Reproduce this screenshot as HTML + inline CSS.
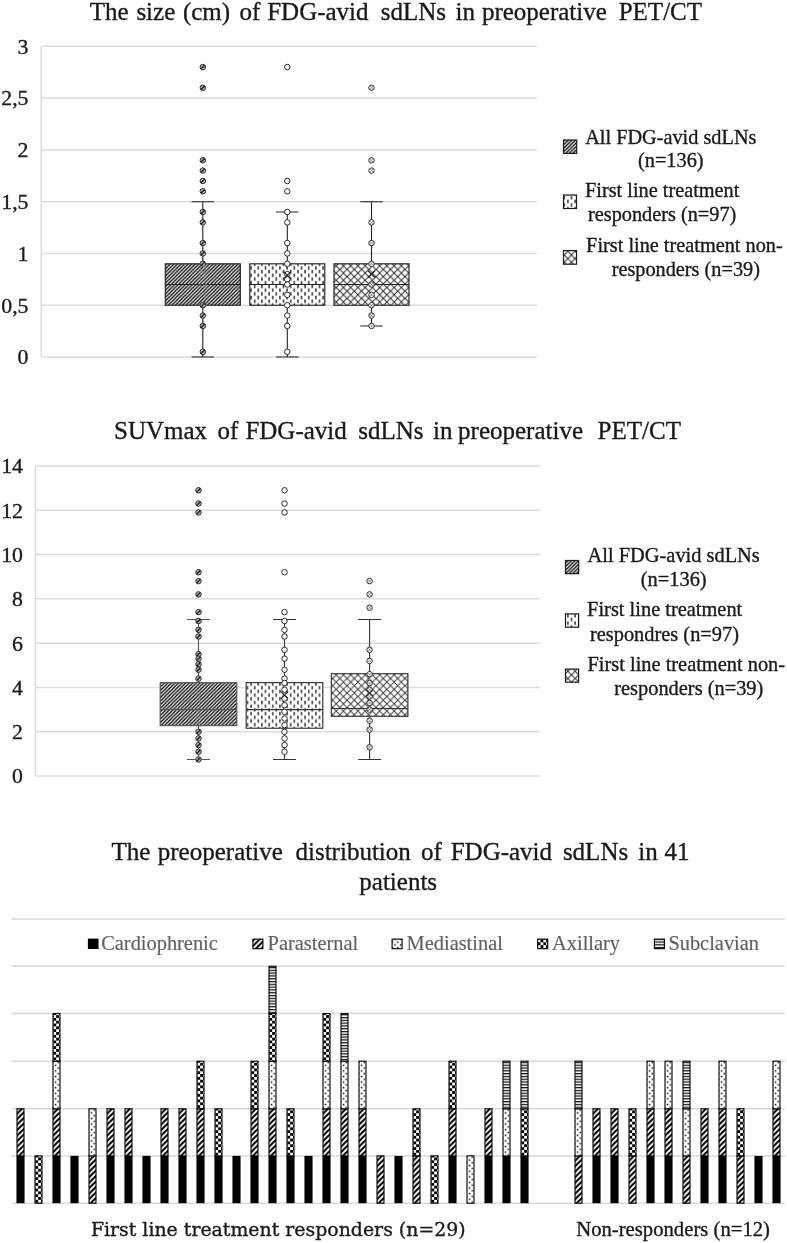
<!DOCTYPE html>
<html><head><meta charset="utf-8"><title>FDG-avid sdLNs</title>
<style>html,body{margin:0;padding:0;background:#fff}svg{display:block}</style>
</head><body>
<svg width="787" height="1243" viewBox="0 0 787 1243">
<defs>
<pattern id="pHatch" patternUnits="userSpaceOnUse" width="3.56" height="3.56">
 <rect width="3.56" height="3.56" fill="#fff"/>
 <path d="M-0.89,0.89 L0.89,-0.89 M0,3.56 L3.56,0 M2.67,4.45 L4.45,2.67" stroke="#000" stroke-width="1.33"/>
</pattern>
<pattern id="pDash" patternUnits="userSpaceOnUse" width="7.2" height="7.4">
 <rect width="7.2" height="7.4" fill="#fff"/>
 <rect x="5.6" y="-0.2" width="1.4" height="3.5" fill="#222"/>
 <rect x="5.6" y="7.2" width="1.4" height="3.5" fill="#222"/>
 <rect x="2.0" y="3.5" width="1.4" height="3.5" fill="#222"/>
</pattern>
<pattern id="pCross" patternUnits="userSpaceOnUse" width="7.24" height="7.24" patternTransform="translate(-0.46 1.54)">
 <rect width="7.24" height="7.24" fill="#fff"/>
 <path d="M0,0 L7.24,7.24 M7.24,0 L0,7.24" stroke="#333" stroke-width="1.1"/>
</pattern>
<pattern id="pPara" patternUnits="userSpaceOnUse" width="5.5" height="5.5">
 <rect width="5.5" height="5.5" fill="#fff"/>
 <path d="M-1.375,1.375 L1.375,-1.375 M0,5.5 L5.5,0 M4.125,6.875 L6.875,4.125" stroke="#000" stroke-width="2.1"/>
</pattern>
<pattern id="pChk" patternUnits="userSpaceOnUse" width="5.65" height="5.65" patternTransform="translate(3.725 1.6)">
 <rect width="5.65" height="5.65" fill="#fff"/>
 <rect x="0" y="0" width="2.825" height="2.825" fill="#000"/>
 <rect x="2.825" y="2.825" width="2.825" height="2.825" fill="#000"/>
</pattern>
<pattern id="pDot" patternUnits="userSpaceOnUse" width="5.6" height="5.6" patternTransform="translate(1.45 2.65)">
 <rect width="5.6" height="5.6" fill="#fff"/>
 <rect x="0.8" y="0.7" width="1.5" height="1.5" fill="#000"/>
 <rect x="3.6" y="3.5" width="1.5" height="1.5" fill="#000"/>
</pattern>
<pattern id="pHor" patternUnits="userSpaceOnUse" width="4" height="2.8" patternTransform="translate(0 0.65)">
 <rect width="4" height="2.8" fill="#fff"/>
 <rect x="0" y="0" width="4" height="1.25" fill="#111"/>
</pattern>
<pattern id="pDash2" patternUnits="userSpaceOnUse" width="7.2" height="7.4" patternTransform="translate(0 1.7)">
 <rect width="7.2" height="7.4" fill="#fff"/>
 <rect x="5.6" y="-0.2" width="1.4" height="3.5" fill="#2a2a2a"/>
 <rect x="5.6" y="7.2" width="1.4" height="3.5" fill="#2a2a2a"/>
 <rect x="2.0" y="3.5" width="1.4" height="3.5" fill="#2a2a2a"/>
</pattern>
<pattern id="pCross2" patternUnits="userSpaceOnUse" width="7.24" height="7.24" patternTransform="translate(-0.46 5.16)">
 <rect width="7.24" height="7.24" fill="#fff"/>
 <path d="M0,0 L7.24,7.24 M7.24,0 L0,7.24" stroke="#3c3c3c" stroke-width="1.0"/>
</pattern>
</defs>

<line x1="41.3" y1="357.00" x2="537" y2="357.00" stroke="#dcdcdc" stroke-width="1.5"/>
<text x="28.5" y="364.35" font-size="21.8" text-anchor="end" fill="#1a1a1a" stroke="#1a1a1a" stroke-width="0.35" font-family="'Liberation Serif', serif" >0</text>
<line x1="41.3" y1="305.23" x2="537" y2="305.23" stroke="#dcdcdc" stroke-width="1.5"/>
<text x="28.5" y="312.58" font-size="21.8" text-anchor="end" fill="#1a1a1a" stroke="#1a1a1a" stroke-width="0.35" font-family="'Liberation Serif', serif" >0,5</text>
<line x1="41.3" y1="253.45" x2="537" y2="253.45" stroke="#dcdcdc" stroke-width="1.5"/>
<text x="28.5" y="260.80" font-size="21.8" text-anchor="end" fill="#1a1a1a" stroke="#1a1a1a" stroke-width="0.35" font-family="'Liberation Serif', serif" >1</text>
<line x1="41.3" y1="201.68" x2="537" y2="201.68" stroke="#dcdcdc" stroke-width="1.5"/>
<text x="28.5" y="209.03" font-size="21.8" text-anchor="end" fill="#1a1a1a" stroke="#1a1a1a" stroke-width="0.35" font-family="'Liberation Serif', serif" >1,5</text>
<line x1="41.3" y1="149.90" x2="537" y2="149.90" stroke="#dcdcdc" stroke-width="1.5"/>
<text x="28.5" y="157.25" font-size="21.8" text-anchor="end" fill="#1a1a1a" stroke="#1a1a1a" stroke-width="0.35" font-family="'Liberation Serif', serif" >2</text>
<line x1="41.3" y1="98.12" x2="537" y2="98.12" stroke="#dcdcdc" stroke-width="1.5"/>
<text x="28.5" y="105.47" font-size="21.8" text-anchor="end" fill="#1a1a1a" stroke="#1a1a1a" stroke-width="0.35" font-family="'Liberation Serif', serif" >2,5</text>
<line x1="41.3" y1="46.35" x2="537" y2="46.35" stroke="#dcdcdc" stroke-width="1.5"/>
<text x="28.5" y="53.70" font-size="21.8" text-anchor="end" fill="#1a1a1a" stroke="#1a1a1a" stroke-width="0.35" font-family="'Liberation Serif', serif" >3</text>
<line x1="41.3" y1="46.35" x2="41.3" y2="357.00" stroke="#dcdcdc" stroke-width="1.5"/>
<text y="19.8" font-size="25.0" fill="#1a1a1a" stroke="#1a1a1a" stroke-width="0.35" font-family="'Liberation Serif', serif"><tspan x="89.80">The</tspan> <tspan x="136.40">size</tspan> <tspan x="182.90">(cm)</tspan> <tspan x="239.60">of</tspan> <tspan x="267.20">FDG-avid</tspan> <tspan x="380.70">sdLNs</tspan> <tspan x="455.50">in</tspan> <tspan x="481.90">preoperative</tspan> <tspan x="618.70">PET/CT</tspan></text>
<rect x="165.30" y="263.81" width="75.00" height="41.42" fill="url(#pHatch)" stroke="#222" stroke-width="1.15"/>
<line x1="165.30" y1="284.51" x2="240.30" y2="284.51" stroke="#222" stroke-width="1.1"/>
<path d="M202.80,263.81 V201.68 M191.60,201.68 H214.00 M202.80,305.23 V357.00 M191.60,357.00 H214.00" stroke="#222" stroke-width="1.1" fill="none"/>
<circle cx="202.80" cy="67.06" r="2.75" fill="#b8b8b8" stroke="#2a2a2a" stroke-width="1.0"/>
<path d="M200.90,68.96 L204.70,65.16" stroke="#222" stroke-width="1.5"/>
<circle cx="202.80" cy="87.77" r="2.75" fill="#b8b8b8" stroke="#2a2a2a" stroke-width="1.0"/>
<path d="M200.90,89.67 L204.70,85.87" stroke="#222" stroke-width="1.5"/>
<circle cx="202.80" cy="160.26" r="2.75" fill="#b8b8b8" stroke="#2a2a2a" stroke-width="1.0"/>
<path d="M200.90,162.16 L204.70,158.36" stroke="#222" stroke-width="1.5"/>
<circle cx="202.80" cy="170.61" r="2.75" fill="#b8b8b8" stroke="#2a2a2a" stroke-width="1.0"/>
<path d="M200.90,172.51 L204.70,168.71" stroke="#222" stroke-width="1.5"/>
<circle cx="202.80" cy="180.97" r="2.75" fill="#b8b8b8" stroke="#2a2a2a" stroke-width="1.0"/>
<path d="M200.90,182.87 L204.70,179.06" stroke="#222" stroke-width="1.5"/>
<circle cx="202.80" cy="191.32" r="2.75" fill="#b8b8b8" stroke="#2a2a2a" stroke-width="1.0"/>
<path d="M200.90,193.22 L204.70,189.42" stroke="#222" stroke-width="1.5"/>
<circle cx="202.80" cy="212.03" r="2.75" fill="#b8b8b8" stroke="#2a2a2a" stroke-width="1.0"/>
<path d="M200.90,213.93 L204.70,210.13" stroke="#222" stroke-width="1.5"/>
<circle cx="202.80" cy="222.38" r="2.75" fill="#b8b8b8" stroke="#2a2a2a" stroke-width="1.0"/>
<path d="M200.90,224.28 L204.70,220.48" stroke="#222" stroke-width="1.5"/>
<circle cx="202.80" cy="243.09" r="2.75" fill="#b8b8b8" stroke="#2a2a2a" stroke-width="1.0"/>
<path d="M200.90,245.00 L204.70,241.19" stroke="#222" stroke-width="1.5"/>
<circle cx="202.80" cy="253.45" r="2.75" fill="#b8b8b8" stroke="#2a2a2a" stroke-width="1.0"/>
<path d="M200.90,255.35 L204.70,251.55" stroke="#222" stroke-width="1.5"/>
<circle cx="202.80" cy="263.81" r="2.75" fill="#b8b8b8" stroke="#2a2a2a" stroke-width="1.0"/>
<path d="M200.90,265.70 L204.70,261.91" stroke="#222" stroke-width="1.5"/>
<circle cx="202.80" cy="268.98" r="2.85" fill="none" stroke="#888" stroke-width="1" opacity="0.7"/>
<circle cx="202.80" cy="274.16" r="2.85" fill="none" stroke="#888" stroke-width="1" opacity="0.7"/>
<circle cx="202.80" cy="284.51" r="2.85" fill="none" stroke="#888" stroke-width="1" opacity="0.7"/>
<circle cx="202.80" cy="294.87" r="2.85" fill="none" stroke="#888" stroke-width="1" opacity="0.7"/>
<circle cx="202.80" cy="305.23" r="2.75" fill="#b8b8b8" stroke="#2a2a2a" stroke-width="1.0"/>
<path d="M200.90,307.12 L204.70,303.33" stroke="#222" stroke-width="1.5"/>
<circle cx="202.80" cy="315.58" r="2.75" fill="#b8b8b8" stroke="#2a2a2a" stroke-width="1.0"/>
<path d="M200.90,317.48 L204.70,313.68" stroke="#222" stroke-width="1.5"/>
<circle cx="202.80" cy="325.94" r="2.75" fill="#b8b8b8" stroke="#2a2a2a" stroke-width="1.0"/>
<path d="M200.90,327.83 L204.70,324.04" stroke="#222" stroke-width="1.5"/>
<circle cx="202.80" cy="351.82" r="2.75" fill="#b8b8b8" stroke="#2a2a2a" stroke-width="1.0"/>
<path d="M200.90,353.72 L204.70,349.92" stroke="#222" stroke-width="1.5"/>
<rect x="249.80" y="263.81" width="75.00" height="41.42" fill="url(#pDash)" stroke="#222" stroke-width="1.15"/>
<line x1="249.80" y1="284.51" x2="324.80" y2="284.51" stroke="#222" stroke-width="1.1"/>
<path d="M287.30,263.81 V212.03 M276.10,212.03 H298.50 M287.30,305.23 V357.00 M276.10,357.00 H298.50" stroke="#222" stroke-width="1.1" fill="none"/>
<circle cx="287.30" cy="67.06" r="2.75" fill="#fff" stroke="#2a2a2a" stroke-width="1.0"/>
<circle cx="287.30" cy="180.97" r="2.75" fill="#fff" stroke="#2a2a2a" stroke-width="1.0"/>
<circle cx="287.30" cy="191.32" r="2.75" fill="#fff" stroke="#2a2a2a" stroke-width="1.0"/>
<circle cx="287.30" cy="212.03" r="2.75" fill="#fff" stroke="#2a2a2a" stroke-width="1.0"/>
<circle cx="287.30" cy="222.38" r="2.75" fill="#fff" stroke="#2a2a2a" stroke-width="1.0"/>
<circle cx="287.30" cy="243.09" r="2.75" fill="#fff" stroke="#2a2a2a" stroke-width="1.0"/>
<circle cx="287.30" cy="253.45" r="2.75" fill="#fff" stroke="#2a2a2a" stroke-width="1.0"/>
<circle cx="287.30" cy="263.81" r="2.75" fill="#fff" stroke="#2a2a2a" stroke-width="1.0"/>
<circle cx="287.30" cy="274.16" r="2.75" fill="#fff" stroke="#2a2a2a" stroke-width="1.0"/>
<circle cx="287.30" cy="279.34" r="2.75" fill="#fff" stroke="#2a2a2a" stroke-width="1.0"/>
<circle cx="287.30" cy="284.51" r="2.75" fill="#fff" stroke="#2a2a2a" stroke-width="1.0"/>
<circle cx="287.30" cy="294.87" r="2.75" fill="#fff" stroke="#2a2a2a" stroke-width="1.0"/>
<circle cx="287.30" cy="305.23" r="2.75" fill="#fff" stroke="#2a2a2a" stroke-width="1.0"/>
<circle cx="287.30" cy="315.58" r="2.75" fill="#fff" stroke="#2a2a2a" stroke-width="1.0"/>
<circle cx="287.30" cy="325.94" r="2.75" fill="#fff" stroke="#2a2a2a" stroke-width="1.0"/>
<circle cx="287.30" cy="351.82" r="2.75" fill="#fff" stroke="#2a2a2a" stroke-width="1.0"/>
<path d="M283.70,271.60 L290.90,278.80 M290.90,271.60 L283.70,278.80" stroke="#222" stroke-width="1.2" fill="none"/>
<rect x="334.00" y="263.81" width="75.00" height="41.42" fill="url(#pCross)" stroke="#222" stroke-width="1.15"/>
<line x1="334.00" y1="284.51" x2="409.00" y2="284.51" stroke="#222" stroke-width="1.1"/>
<path d="M371.50,263.81 V201.68 M360.30,201.68 H382.70 M371.50,305.23 V325.94 M360.30,325.94 H382.70" stroke="#222" stroke-width="1.1" fill="none"/>
<circle cx="371.50" cy="87.77" r="2.75" fill="#fff" stroke="#2a2a2a" stroke-width="1.0"/>
<path d="M369.90,89.37 L373.10,86.17 M369.90,86.17 L373.10,89.37" stroke="#666" stroke-width="0.7"/>
<circle cx="371.50" cy="160.26" r="2.75" fill="#fff" stroke="#2a2a2a" stroke-width="1.0"/>
<path d="M369.90,161.86 L373.10,158.66 M369.90,158.66 L373.10,161.86" stroke="#666" stroke-width="0.7"/>
<circle cx="371.50" cy="170.61" r="2.75" fill="#fff" stroke="#2a2a2a" stroke-width="1.0"/>
<path d="M369.90,172.21 L373.10,169.01 M369.90,169.01 L373.10,172.21" stroke="#666" stroke-width="0.7"/>
<circle cx="371.50" cy="222.38" r="2.75" fill="#fff" stroke="#2a2a2a" stroke-width="1.0"/>
<path d="M369.90,223.98 L373.10,220.78 M369.90,220.78 L373.10,223.98" stroke="#666" stroke-width="0.7"/>
<circle cx="371.50" cy="243.09" r="2.75" fill="#fff" stroke="#2a2a2a" stroke-width="1.0"/>
<path d="M369.90,244.69 L373.10,241.50 M369.90,241.50 L373.10,244.69" stroke="#666" stroke-width="0.7"/>
<circle cx="371.50" cy="263.81" r="2.75" fill="#fff" stroke="#2a2a2a" stroke-width="1.0"/>
<path d="M369.90,265.41 L373.10,262.20 M369.90,262.20 L373.10,265.41" stroke="#666" stroke-width="0.7"/>
<circle cx="371.50" cy="284.51" r="2.75" fill="#fff" stroke="#2a2a2a" stroke-width="1.0"/>
<path d="M369.90,286.12 L373.10,282.91 M369.90,282.91 L373.10,286.12" stroke="#666" stroke-width="0.7"/>
<circle cx="371.50" cy="294.87" r="2.75" fill="#fff" stroke="#2a2a2a" stroke-width="1.0"/>
<path d="M369.90,296.47 L373.10,293.27 M369.90,293.27 L373.10,296.47" stroke="#666" stroke-width="0.7"/>
<circle cx="371.50" cy="305.23" r="2.75" fill="#fff" stroke="#2a2a2a" stroke-width="1.0"/>
<path d="M369.90,306.83 L373.10,303.62 M369.90,303.62 L373.10,306.83" stroke="#666" stroke-width="0.7"/>
<circle cx="371.50" cy="315.58" r="2.75" fill="#fff" stroke="#2a2a2a" stroke-width="1.0"/>
<path d="M369.90,317.18 L373.10,313.98 M369.90,313.98 L373.10,317.18" stroke="#666" stroke-width="0.7"/>
<circle cx="371.50" cy="325.94" r="2.75" fill="#fff" stroke="#2a2a2a" stroke-width="1.0"/>
<path d="M369.90,327.54 L373.10,324.33 M369.90,324.33 L373.10,327.54" stroke="#666" stroke-width="0.7"/>
<path d="M367.90,270.56 L375.10,277.76 M375.10,270.56 L367.90,277.76" stroke="#222" stroke-width="1.2" fill="none"/>
<rect x="563.50" y="140.00" width="13.20" height="13.40" fill="url(#pHatch)" stroke="#1a1a1a" stroke-width="1.2"/>
<text x="670.8" y="143.9" font-size="20.3" text-anchor="middle" fill="#1a1a1a" stroke="#1a1a1a" stroke-width="0.35" font-family="'Liberation Serif', serif" >All FDG-avid sdLNs</text>
<text x="670.8" y="166.9" font-size="20.3" text-anchor="middle" fill="#1a1a1a" stroke="#1a1a1a" stroke-width="0.35" font-family="'Liberation Serif', serif" >(n=136)</text>
<rect x="563.50" y="195.00" width="13.00" height="13.50" fill="url(#pDash)" stroke="#1a1a1a" stroke-width="1.2"/>
<text x="662.2" y="197.0" font-size="20.3" text-anchor="middle" fill="#1a1a1a" stroke="#1a1a1a" stroke-width="0.35" font-family="'Liberation Serif', serif" >First line treatment</text>
<text x="662.2" y="220.8" font-size="20.3" text-anchor="middle" fill="#1a1a1a" stroke="#1a1a1a" stroke-width="0.35" font-family="'Liberation Serif', serif" >responders (n=97)</text>
<rect x="563.50" y="250.60" width="13.00" height="13.60" fill="url(#pCross)" stroke="#1a1a1a" stroke-width="1.2"/>
<text x="684.4" y="251.8" font-size="20.3" text-anchor="middle" fill="#1a1a1a" stroke="#1a1a1a" stroke-width="0.35" font-family="'Liberation Serif', serif" >First line treatment non-</text>
<text x="685.8" y="276.0" font-size="20.3" text-anchor="middle" fill="#1a1a1a" stroke="#1a1a1a" stroke-width="0.35" font-family="'Liberation Serif', serif" >responders (n=39)</text>
<line x1="35.4" y1="776.10" x2="539.7" y2="776.10" stroke="#dcdcdc" stroke-width="1.5"/>
<text x="23.0" y="783.45" font-size="21.8" text-anchor="end" fill="#1a1a1a" stroke="#1a1a1a" stroke-width="0.35" font-family="'Liberation Serif', serif" >0</text>
<line x1="35.4" y1="731.79" x2="539.7" y2="731.79" stroke="#dcdcdc" stroke-width="1.5"/>
<text x="23.0" y="739.14" font-size="21.8" text-anchor="end" fill="#1a1a1a" stroke="#1a1a1a" stroke-width="0.35" font-family="'Liberation Serif', serif" >2</text>
<line x1="35.4" y1="687.47" x2="539.7" y2="687.47" stroke="#dcdcdc" stroke-width="1.5"/>
<text x="23.0" y="694.82" font-size="21.8" text-anchor="end" fill="#1a1a1a" stroke="#1a1a1a" stroke-width="0.35" font-family="'Liberation Serif', serif" >4</text>
<line x1="35.4" y1="643.16" x2="539.7" y2="643.16" stroke="#dcdcdc" stroke-width="1.5"/>
<text x="23.0" y="650.51" font-size="21.8" text-anchor="end" fill="#1a1a1a" stroke="#1a1a1a" stroke-width="0.35" font-family="'Liberation Serif', serif" >6</text>
<line x1="35.4" y1="598.84" x2="539.7" y2="598.84" stroke="#dcdcdc" stroke-width="1.5"/>
<text x="23.0" y="606.19" font-size="21.8" text-anchor="end" fill="#1a1a1a" stroke="#1a1a1a" stroke-width="0.35" font-family="'Liberation Serif', serif" >8</text>
<line x1="35.4" y1="554.53" x2="539.7" y2="554.53" stroke="#dcdcdc" stroke-width="1.5"/>
<text x="23.0" y="561.88" font-size="21.8" text-anchor="end" fill="#1a1a1a" stroke="#1a1a1a" stroke-width="0.35" font-family="'Liberation Serif', serif" >10</text>
<line x1="35.4" y1="510.21" x2="539.7" y2="510.21" stroke="#dcdcdc" stroke-width="1.5"/>
<text x="23.0" y="517.56" font-size="21.8" text-anchor="end" fill="#1a1a1a" stroke="#1a1a1a" stroke-width="0.35" font-family="'Liberation Serif', serif" >12</text>
<line x1="35.4" y1="465.90" x2="539.7" y2="465.90" stroke="#dcdcdc" stroke-width="1.5"/>
<text x="23.0" y="473.25" font-size="21.8" text-anchor="end" fill="#1a1a1a" stroke="#1a1a1a" stroke-width="0.35" font-family="'Liberation Serif', serif" >14</text>
<line x1="35.4" y1="465.90" x2="35.4" y2="776.10" stroke="#dcdcdc" stroke-width="1.5"/>
<text y="439.1" font-size="25.0" fill="#1a1a1a" stroke="#1a1a1a" stroke-width="0.35" font-family="'Liberation Serif', serif"><tspan x="114.00">SUVmax</tspan> <tspan x="217.40">of</tspan> <tspan x="245.40">FDG-avid</tspan> <tspan x="358.30">sdLNs</tspan> <tspan x="433.00">in</tspan> <tspan x="458.10">preoperative</tspan> <tspan x="597.60">PET/CT</tspan></text>
<rect x="160.20" y="682.60" width="76.60" height="42.98" fill="url(#pHatch)" stroke="#555" stroke-width="1.15"/>
<line x1="160.20" y1="709.63" x2="236.80" y2="709.63" stroke="#555" stroke-width="1.1"/>
<path d="M198.50,682.60 V619.45 M187.00,619.45 H210.00 M198.50,725.58 V759.48 M187.00,759.48 H210.00" stroke="#555" stroke-width="1.1" fill="none"/>
<circle cx="198.50" cy="490.27" r="2.75" fill="#b8b8b8" stroke="#2a2a2a" stroke-width="1.0"/>
<path d="M196.60,492.17 L200.40,488.37" stroke="#222" stroke-width="1.5"/>
<circle cx="198.50" cy="503.57" r="2.75" fill="#b8b8b8" stroke="#2a2a2a" stroke-width="1.0"/>
<path d="M196.60,505.47 L200.40,501.67" stroke="#222" stroke-width="1.5"/>
<circle cx="198.50" cy="512.43" r="2.75" fill="#b8b8b8" stroke="#2a2a2a" stroke-width="1.0"/>
<path d="M196.60,514.33 L200.40,510.53" stroke="#222" stroke-width="1.5"/>
<circle cx="198.50" cy="572.25" r="2.75" fill="#b8b8b8" stroke="#2a2a2a" stroke-width="1.0"/>
<path d="M196.60,574.15 L200.40,570.35" stroke="#222" stroke-width="1.5"/>
<circle cx="198.50" cy="581.12" r="2.75" fill="#b8b8b8" stroke="#2a2a2a" stroke-width="1.0"/>
<path d="M196.60,583.02 L200.40,579.22" stroke="#222" stroke-width="1.5"/>
<circle cx="198.50" cy="594.41" r="2.75" fill="#b8b8b8" stroke="#2a2a2a" stroke-width="1.0"/>
<path d="M196.60,596.31 L200.40,592.51" stroke="#222" stroke-width="1.5"/>
<circle cx="198.50" cy="612.14" r="2.75" fill="#b8b8b8" stroke="#2a2a2a" stroke-width="1.0"/>
<path d="M196.60,614.04 L200.40,610.24" stroke="#222" stroke-width="1.5"/>
<circle cx="198.50" cy="621.00" r="2.75" fill="#b8b8b8" stroke="#2a2a2a" stroke-width="1.0"/>
<path d="M196.60,622.90 L200.40,619.10" stroke="#222" stroke-width="1.5"/>
<circle cx="198.50" cy="629.86" r="2.75" fill="#b8b8b8" stroke="#2a2a2a" stroke-width="1.0"/>
<path d="M196.60,631.76 L200.40,627.96" stroke="#222" stroke-width="1.5"/>
<circle cx="198.50" cy="636.51" r="2.75" fill="#b8b8b8" stroke="#2a2a2a" stroke-width="1.0"/>
<path d="M196.60,638.41 L200.40,634.61" stroke="#222" stroke-width="1.5"/>
<circle cx="198.50" cy="654.24" r="2.75" fill="#b8b8b8" stroke="#2a2a2a" stroke-width="1.0"/>
<path d="M196.60,656.14 L200.40,652.34" stroke="#222" stroke-width="1.5"/>
<circle cx="198.50" cy="658.67" r="2.75" fill="#b8b8b8" stroke="#2a2a2a" stroke-width="1.0"/>
<path d="M196.60,660.57 L200.40,656.77" stroke="#222" stroke-width="1.5"/>
<circle cx="198.50" cy="664.21" r="2.75" fill="#b8b8b8" stroke="#2a2a2a" stroke-width="1.0"/>
<path d="M196.60,666.11 L200.40,662.31" stroke="#222" stroke-width="1.5"/>
<circle cx="198.50" cy="669.75" r="2.75" fill="#b8b8b8" stroke="#2a2a2a" stroke-width="1.0"/>
<path d="M196.60,671.65 L200.40,667.85" stroke="#222" stroke-width="1.5"/>
<circle cx="198.50" cy="678.61" r="2.75" fill="#b8b8b8" stroke="#2a2a2a" stroke-width="1.0"/>
<path d="M196.60,680.51 L200.40,676.71" stroke="#222" stroke-width="1.5"/>
<circle cx="198.50" cy="683.04" r="2.85" fill="none" stroke="#888" stroke-width="1" opacity="0.35"/>
<circle cx="198.50" cy="689.69" r="2.85" fill="none" stroke="#888" stroke-width="1" opacity="0.35"/>
<circle cx="198.50" cy="696.33" r="2.85" fill="none" stroke="#888" stroke-width="1" opacity="0.35"/>
<circle cx="198.50" cy="702.98" r="2.85" fill="none" stroke="#888" stroke-width="1" opacity="0.35"/>
<circle cx="198.50" cy="709.63" r="2.85" fill="none" stroke="#888" stroke-width="1" opacity="0.35"/>
<circle cx="198.50" cy="716.28" r="2.85" fill="none" stroke="#888" stroke-width="1" opacity="0.35"/>
<circle cx="198.50" cy="720.71" r="2.85" fill="none" stroke="#888" stroke-width="1" opacity="0.35"/>
<circle cx="198.50" cy="725.14" r="2.85" fill="none" stroke="#888" stroke-width="1" opacity="0.35"/>
<circle cx="198.50" cy="731.79" r="2.75" fill="#b8b8b8" stroke="#2a2a2a" stroke-width="1.0"/>
<path d="M196.60,733.69 L200.40,729.89" stroke="#222" stroke-width="1.5"/>
<circle cx="198.50" cy="738.43" r="2.75" fill="#b8b8b8" stroke="#2a2a2a" stroke-width="1.0"/>
<path d="M196.60,740.33 L200.40,736.53" stroke="#222" stroke-width="1.5"/>
<circle cx="198.50" cy="745.08" r="2.75" fill="#b8b8b8" stroke="#2a2a2a" stroke-width="1.0"/>
<path d="M196.60,746.98 L200.40,743.18" stroke="#222" stroke-width="1.5"/>
<circle cx="198.50" cy="751.73" r="2.75" fill="#b8b8b8" stroke="#2a2a2a" stroke-width="1.0"/>
<path d="M196.60,753.63 L200.40,749.83" stroke="#222" stroke-width="1.5"/>
<circle cx="198.50" cy="759.48" r="2.75" fill="#b8b8b8" stroke="#2a2a2a" stroke-width="1.0"/>
<path d="M196.60,761.38 L200.40,757.58" stroke="#222" stroke-width="1.5"/>
<rect x="246.20" y="682.60" width="76.60" height="45.64" fill="url(#pDash2)" stroke="#333" stroke-width="1.15"/>
<line x1="246.20" y1="709.63" x2="322.80" y2="709.63" stroke="#333" stroke-width="1.1"/>
<path d="M284.50,682.60 V619.45 M273.00,619.45 H296.00 M284.50,728.24 V759.48 M273.00,759.48 H296.00" stroke="#333" stroke-width="1.1" fill="none"/>
<circle cx="284.50" cy="490.27" r="2.75" fill="#fff" stroke="#2a2a2a" stroke-width="1.0"/>
<circle cx="284.50" cy="503.57" r="2.75" fill="#fff" stroke="#2a2a2a" stroke-width="1.0"/>
<circle cx="284.50" cy="512.43" r="2.75" fill="#fff" stroke="#2a2a2a" stroke-width="1.0"/>
<circle cx="284.50" cy="572.25" r="2.75" fill="#fff" stroke="#2a2a2a" stroke-width="1.0"/>
<circle cx="284.50" cy="612.14" r="2.75" fill="#fff" stroke="#2a2a2a" stroke-width="1.0"/>
<circle cx="284.50" cy="621.00" r="2.75" fill="#fff" stroke="#2a2a2a" stroke-width="1.0"/>
<circle cx="284.50" cy="629.86" r="2.75" fill="#fff" stroke="#2a2a2a" stroke-width="1.0"/>
<circle cx="284.50" cy="636.51" r="2.75" fill="#fff" stroke="#2a2a2a" stroke-width="1.0"/>
<circle cx="284.50" cy="649.80" r="2.75" fill="#fff" stroke="#2a2a2a" stroke-width="1.0"/>
<circle cx="284.50" cy="658.67" r="2.75" fill="#fff" stroke="#2a2a2a" stroke-width="1.0"/>
<circle cx="284.50" cy="669.75" r="2.75" fill="#fff" stroke="#2a2a2a" stroke-width="1.0"/>
<circle cx="284.50" cy="678.61" r="2.75" fill="#fff" stroke="#2a2a2a" stroke-width="1.0"/>
<circle cx="284.50" cy="683.04" r="2.75" fill="#fff" stroke="#2a2a2a" stroke-width="1.0"/>
<circle cx="284.50" cy="689.69" r="2.75" fill="#fff" stroke="#2a2a2a" stroke-width="1.0"/>
<circle cx="284.50" cy="698.55" r="2.75" fill="#fff" stroke="#2a2a2a" stroke-width="1.0"/>
<circle cx="284.50" cy="705.20" r="2.75" fill="#fff" stroke="#2a2a2a" stroke-width="1.0"/>
<circle cx="284.50" cy="711.84" r="2.75" fill="#fff" stroke="#2a2a2a" stroke-width="1.0"/>
<circle cx="284.50" cy="718.49" r="2.75" fill="#fff" stroke="#2a2a2a" stroke-width="1.0"/>
<circle cx="284.50" cy="725.14" r="2.75" fill="#fff" stroke="#2a2a2a" stroke-width="1.0"/>
<circle cx="284.50" cy="731.79" r="2.75" fill="#fff" stroke="#2a2a2a" stroke-width="1.0"/>
<circle cx="284.50" cy="738.43" r="2.75" fill="#fff" stroke="#2a2a2a" stroke-width="1.0"/>
<circle cx="284.50" cy="745.08" r="2.75" fill="#fff" stroke="#2a2a2a" stroke-width="1.0"/>
<circle cx="284.50" cy="751.73" r="2.75" fill="#fff" stroke="#2a2a2a" stroke-width="1.0"/>
<path d="M280.90,691.40 L288.10,698.60 M288.10,691.40 L280.90,698.60" stroke="#333" stroke-width="1.2" fill="none"/>
<rect x="331.30" y="673.73" width="76.60" height="42.54" fill="url(#pCross2)" stroke="#333" stroke-width="1.15"/>
<line x1="331.30" y1="708.52" x2="407.90" y2="708.52" stroke="#333" stroke-width="1.1"/>
<path d="M369.60,673.73 V619.45 M358.10,619.45 H381.10 M369.60,716.28 V759.48 M358.10,759.48 H381.10" stroke="#333" stroke-width="1.1" fill="none"/>
<circle cx="369.60" cy="581.12" r="2.75" fill="#fff" stroke="#2a2a2a" stroke-width="1.0"/>
<path d="M368.00,582.72 L371.20,579.52 M368.00,579.52 L371.20,582.72" stroke="#666" stroke-width="0.7"/>
<circle cx="369.60" cy="594.41" r="2.75" fill="#fff" stroke="#2a2a2a" stroke-width="1.0"/>
<path d="M368.00,596.01 L371.20,592.81 M368.00,592.81 L371.20,596.01" stroke="#666" stroke-width="0.7"/>
<circle cx="369.60" cy="607.71" r="2.75" fill="#fff" stroke="#2a2a2a" stroke-width="1.0"/>
<path d="M368.00,609.31 L371.20,606.11 M368.00,606.11 L371.20,609.31" stroke="#666" stroke-width="0.7"/>
<circle cx="369.60" cy="649.80" r="2.75" fill="#fff" stroke="#2a2a2a" stroke-width="1.0"/>
<path d="M368.00,651.40 L371.20,648.20 M368.00,648.20 L371.20,651.40" stroke="#666" stroke-width="0.7"/>
<circle cx="369.60" cy="660.88" r="2.75" fill="#fff" stroke="#2a2a2a" stroke-width="1.0"/>
<path d="M368.00,662.48 L371.20,659.28 M368.00,659.28 L371.20,662.48" stroke="#666" stroke-width="0.7"/>
<circle cx="369.60" cy="674.18" r="2.75" fill="#fff" stroke="#2a2a2a" stroke-width="1.0"/>
<path d="M368.00,675.78 L371.20,672.58 M368.00,672.58 L371.20,675.78" stroke="#666" stroke-width="0.7"/>
<circle cx="369.60" cy="683.04" r="2.75" fill="#fff" stroke="#2a2a2a" stroke-width="1.0"/>
<path d="M368.00,684.64 L371.20,681.44 M368.00,681.44 L371.20,684.64" stroke="#666" stroke-width="0.7"/>
<circle cx="369.60" cy="689.69" r="2.75" fill="#fff" stroke="#2a2a2a" stroke-width="1.0"/>
<path d="M368.00,691.29 L371.20,688.09 M368.00,688.09 L371.20,691.29" stroke="#666" stroke-width="0.7"/>
<circle cx="369.60" cy="696.33" r="2.75" fill="#fff" stroke="#2a2a2a" stroke-width="1.0"/>
<path d="M368.00,697.93 L371.20,694.73 M368.00,694.73 L371.20,697.93" stroke="#666" stroke-width="0.7"/>
<circle cx="369.60" cy="702.98" r="2.75" fill="#fff" stroke="#2a2a2a" stroke-width="1.0"/>
<path d="M368.00,704.58 L371.20,701.38 M368.00,701.38 L371.20,704.58" stroke="#666" stroke-width="0.7"/>
<circle cx="369.60" cy="709.63" r="2.75" fill="#fff" stroke="#2a2a2a" stroke-width="1.0"/>
<path d="M368.00,711.23 L371.20,708.03 M368.00,708.03 L371.20,711.23" stroke="#666" stroke-width="0.7"/>
<circle cx="369.60" cy="720.71" r="2.75" fill="#fff" stroke="#2a2a2a" stroke-width="1.0"/>
<path d="M368.00,722.31 L371.20,719.11 M368.00,719.11 L371.20,722.31" stroke="#666" stroke-width="0.7"/>
<circle cx="369.60" cy="729.57" r="2.75" fill="#fff" stroke="#2a2a2a" stroke-width="1.0"/>
<path d="M368.00,731.17 L371.20,727.97 M368.00,727.97 L371.20,731.17" stroke="#666" stroke-width="0.7"/>
<circle cx="369.60" cy="747.30" r="2.75" fill="#fff" stroke="#2a2a2a" stroke-width="1.0"/>
<path d="M368.00,748.90 L371.20,745.70 M368.00,745.70 L371.20,748.90" stroke="#666" stroke-width="0.7"/>
<path d="M366.00,689.41 L373.20,696.61 M373.20,689.41 L366.00,696.61" stroke="#333" stroke-width="1.2" fill="none"/>
<rect x="565.50" y="560.50" width="13.20" height="13.20" fill="url(#pHatch)" stroke="#1a1a1a" stroke-width="1.2"/>
<text x="673.7" y="562" font-size="20.4" text-anchor="middle" fill="#1a1a1a" stroke="#1a1a1a" stroke-width="0.35" font-family="'Liberation Serif', serif" >All FDG-avid sdLNs</text>
<text x="673.7" y="585.7" font-size="20.4" text-anchor="middle" fill="#1a1a1a" stroke="#1a1a1a" stroke-width="0.35" font-family="'Liberation Serif', serif" >(n=136)</text>
<rect x="565.50" y="613.90" width="13.10" height="13.30" fill="url(#pDash)" stroke="#1a1a1a" stroke-width="1.2"/>
<text x="664.7" y="615.8" font-size="20.4" text-anchor="middle" fill="#1a1a1a" stroke="#1a1a1a" stroke-width="0.35" font-family="'Liberation Serif', serif" >First line treatment</text>
<text x="664.5" y="640.5" font-size="20.4" text-anchor="middle" fill="#1a1a1a" stroke="#1a1a1a" stroke-width="0.35" font-family="'Liberation Serif', serif" >respondres (n=97)</text>
<rect x="565.50" y="669.10" width="13.10" height="13.10" fill="url(#pCross)" stroke="#1a1a1a" stroke-width="1.2"/>
<text x="686.3" y="671.3" font-size="20.4" text-anchor="middle" fill="#1a1a1a" stroke="#1a1a1a" stroke-width="0.35" font-family="'Liberation Serif', serif" >First line treatment non-</text>
<text x="688.8" y="694.6" font-size="20.4" text-anchor="middle" fill="#1a1a1a" stroke="#1a1a1a" stroke-width="0.35" font-family="'Liberation Serif', serif" >responders (n=39)</text>
<text y="859.8" font-size="25.0" fill="#1a1a1a" stroke="#1a1a1a" stroke-width="0.35" font-family="'Liberation Serif', serif"><tspan x="111.60">The</tspan> <tspan x="157.80">preoperative</tspan> <tspan x="295.50">distribution</tspan> <tspan x="421.00">of</tspan> <tspan x="450.70">FDG-avid</tspan> <tspan x="562.90">sdLNs</tspan> <tspan x="638.20">in</tspan> <tspan x="664.60">41</tspan></text>
<text y="889.8" font-size="25.0" fill="#1a1a1a" stroke="#1a1a1a" stroke-width="0.35" font-family="'Liberation Serif', serif"><tspan x="359.30">patients</tspan></text>
<line x1="11.4" y1="919" x2="784.8" y2="919" stroke="#d9d9d9" stroke-width="1.45"/>
<line x1="11.4" y1="966.3" x2="784.8" y2="966.3" stroke="#d9d9d9" stroke-width="1.45"/>
<line x1="11.4" y1="1013.5" x2="784.8" y2="1013.5" stroke="#d9d9d9" stroke-width="1.45"/>
<line x1="11.4" y1="1061.2" x2="784.8" y2="1061.2" stroke="#d9d9d9" stroke-width="1.45"/>
<line x1="11.4" y1="1108.8" x2="784.8" y2="1108.8" stroke="#d9d9d9" stroke-width="1.45"/>
<line x1="11.4" y1="1155.9" x2="784.8" y2="1155.9" stroke="#d9d9d9" stroke-width="1.45"/>
<line x1="11.4" y1="1203.2" x2="784.8" y2="1203.2" stroke="#d9d9d9" stroke-width="1.45"/>
<rect x="16.45" y="1155.90" width="8.1" height="47.30" fill="#000"/>
<g transform="translate(16.45 1108.80)"><rect x="0.55" y="0" width="7.0" height="47.10" fill="url(#pPara)" stroke="#000" stroke-width="1.1"/></g>
<g transform="translate(34.45 1155.90)"><rect x="0.55" y="0" width="7.0" height="47.30" fill="url(#pChk)" stroke="#000" stroke-width="1.1"/></g>
<rect x="52.45" y="1155.90" width="8.1" height="47.30" fill="#000"/>
<g transform="translate(52.45 1108.80)"><rect x="0.55" y="0" width="7.0" height="47.10" fill="url(#pPara)" stroke="#000" stroke-width="1.1"/></g>
<g transform="translate(52.45 1061.20)"><rect x="0.55" y="0" width="7.0" height="47.60" fill="url(#pDot)" stroke="#000" stroke-width="1.1"/></g>
<g transform="translate(52.45 1013.50)"><rect x="0.55" y="0" width="7.0" height="47.70" fill="url(#pChk)" stroke="#000" stroke-width="1.1"/></g>
<rect x="70.45" y="1155.90" width="8.1" height="47.30" fill="#000"/>
<g transform="translate(88.45 1155.90)"><rect x="0.55" y="0" width="7.0" height="47.30" fill="url(#pPara)" stroke="#000" stroke-width="1.1"/></g>
<g transform="translate(88.45 1108.80)"><rect x="0.55" y="0" width="7.0" height="47.10" fill="url(#pDot)" stroke="#000" stroke-width="1.1"/></g>
<rect x="106.45" y="1155.90" width="8.1" height="47.30" fill="#000"/>
<g transform="translate(106.45 1108.80)"><rect x="0.55" y="0" width="7.0" height="47.10" fill="url(#pPara)" stroke="#000" stroke-width="1.1"/></g>
<rect x="124.45" y="1155.90" width="8.1" height="47.30" fill="#000"/>
<g transform="translate(124.45 1108.80)"><rect x="0.55" y="0" width="7.0" height="47.10" fill="url(#pPara)" stroke="#000" stroke-width="1.1"/></g>
<rect x="142.45" y="1155.90" width="8.1" height="47.30" fill="#000"/>
<rect x="160.45" y="1155.90" width="8.1" height="47.30" fill="#000"/>
<g transform="translate(160.45 1108.80)"><rect x="0.55" y="0" width="7.0" height="47.10" fill="url(#pPara)" stroke="#000" stroke-width="1.1"/></g>
<rect x="178.45" y="1155.90" width="8.1" height="47.30" fill="#000"/>
<g transform="translate(178.45 1108.80)"><rect x="0.55" y="0" width="7.0" height="47.10" fill="url(#pPara)" stroke="#000" stroke-width="1.1"/></g>
<rect x="196.45" y="1155.90" width="8.1" height="47.30" fill="#000"/>
<g transform="translate(196.45 1108.80)"><rect x="0.55" y="0" width="7.0" height="47.10" fill="url(#pPara)" stroke="#000" stroke-width="1.1"/></g>
<g transform="translate(196.45 1061.20)"><rect x="0.55" y="0" width="7.0" height="47.60" fill="url(#pChk)" stroke="#000" stroke-width="1.1"/></g>
<rect x="214.45" y="1155.90" width="8.1" height="47.30" fill="#000"/>
<g transform="translate(214.45 1108.80)"><rect x="0.55" y="0" width="7.0" height="47.10" fill="url(#pChk)" stroke="#000" stroke-width="1.1"/></g>
<rect x="232.45" y="1155.90" width="8.1" height="47.30" fill="#000"/>
<rect x="250.45" y="1155.90" width="8.1" height="47.30" fill="#000"/>
<g transform="translate(250.45 1108.80)"><rect x="0.55" y="0" width="7.0" height="47.10" fill="url(#pPara)" stroke="#000" stroke-width="1.1"/></g>
<g transform="translate(250.45 1061.20)"><rect x="0.55" y="0" width="7.0" height="47.60" fill="url(#pChk)" stroke="#000" stroke-width="1.1"/></g>
<rect x="268.45" y="1155.90" width="8.1" height="47.30" fill="#000"/>
<g transform="translate(268.45 1108.80)"><rect x="0.55" y="0" width="7.0" height="47.10" fill="url(#pPara)" stroke="#000" stroke-width="1.1"/></g>
<g transform="translate(268.45 1061.20)"><rect x="0.55" y="0" width="7.0" height="47.60" fill="url(#pDot)" stroke="#000" stroke-width="1.1"/></g>
<g transform="translate(268.45 1013.50)"><rect x="0.55" y="0" width="7.0" height="47.70" fill="url(#pChk)" stroke="#000" stroke-width="1.1"/></g>
<g transform="translate(268.45 966.30)"><rect x="0.55" y="0" width="7.0" height="47.20" fill="url(#pHor)" stroke="#000" stroke-width="1.1"/></g>
<rect x="286.45" y="1155.90" width="8.1" height="47.30" fill="#000"/>
<g transform="translate(286.45 1108.80)"><rect x="0.55" y="0" width="7.0" height="47.10" fill="url(#pChk)" stroke="#000" stroke-width="1.1"/></g>
<rect x="304.45" y="1155.90" width="8.1" height="47.30" fill="#000"/>
<rect x="322.45" y="1155.90" width="8.1" height="47.30" fill="#000"/>
<g transform="translate(322.45 1108.80)"><rect x="0.55" y="0" width="7.0" height="47.10" fill="url(#pPara)" stroke="#000" stroke-width="1.1"/></g>
<g transform="translate(322.45 1061.20)"><rect x="0.55" y="0" width="7.0" height="47.60" fill="url(#pDot)" stroke="#000" stroke-width="1.1"/></g>
<g transform="translate(322.45 1013.50)"><rect x="0.55" y="0" width="7.0" height="47.70" fill="url(#pChk)" stroke="#000" stroke-width="1.1"/></g>
<rect x="340.45" y="1155.90" width="8.1" height="47.30" fill="#000"/>
<g transform="translate(340.45 1108.80)"><rect x="0.55" y="0" width="7.0" height="47.10" fill="url(#pPara)" stroke="#000" stroke-width="1.1"/></g>
<g transform="translate(340.45 1061.20)"><rect x="0.55" y="0" width="7.0" height="47.60" fill="url(#pDot)" stroke="#000" stroke-width="1.1"/></g>
<g transform="translate(340.45 1013.50)"><rect x="0.55" y="0" width="7.0" height="47.70" fill="url(#pHor)" stroke="#000" stroke-width="1.1"/></g>
<rect x="358.45" y="1155.90" width="8.1" height="47.30" fill="#000"/>
<g transform="translate(358.45 1108.80)"><rect x="0.55" y="0" width="7.0" height="47.10" fill="url(#pPara)" stroke="#000" stroke-width="1.1"/></g>
<g transform="translate(358.45 1061.20)"><rect x="0.55" y="0" width="7.0" height="47.60" fill="url(#pDot)" stroke="#000" stroke-width="1.1"/></g>
<g transform="translate(376.45 1155.90)"><rect x="0.55" y="0" width="7.0" height="47.30" fill="url(#pPara)" stroke="#000" stroke-width="1.1"/></g>
<rect x="394.45" y="1155.90" width="8.1" height="47.30" fill="#000"/>
<g transform="translate(412.45 1155.90)"><rect x="0.55" y="0" width="7.0" height="47.30" fill="url(#pPara)" stroke="#000" stroke-width="1.1"/></g>
<g transform="translate(412.45 1108.80)"><rect x="0.55" y="0" width="7.0" height="47.10" fill="url(#pChk)" stroke="#000" stroke-width="1.1"/></g>
<g transform="translate(430.45 1155.90)"><rect x="0.55" y="0" width="7.0" height="47.30" fill="url(#pChk)" stroke="#000" stroke-width="1.1"/></g>
<rect x="448.45" y="1155.90" width="8.1" height="47.30" fill="#000"/>
<g transform="translate(448.45 1108.80)"><rect x="0.55" y="0" width="7.0" height="47.10" fill="url(#pPara)" stroke="#000" stroke-width="1.1"/></g>
<g transform="translate(448.45 1061.20)"><rect x="0.55" y="0" width="7.0" height="47.60" fill="url(#pChk)" stroke="#000" stroke-width="1.1"/></g>
<g transform="translate(466.45 1155.90)"><rect x="0.55" y="0" width="7.0" height="47.30" fill="url(#pDot)" stroke="#000" stroke-width="1.1"/></g>
<rect x="484.45" y="1155.90" width="8.1" height="47.30" fill="#000"/>
<g transform="translate(484.45 1108.80)"><rect x="0.55" y="0" width="7.0" height="47.10" fill="url(#pPara)" stroke="#000" stroke-width="1.1"/></g>
<rect x="502.45" y="1155.90" width="8.1" height="47.30" fill="#000"/>
<g transform="translate(502.45 1108.80)"><rect x="0.55" y="0" width="7.0" height="47.10" fill="url(#pDot)" stroke="#000" stroke-width="1.1"/></g>
<g transform="translate(502.45 1061.20)"><rect x="0.55" y="0" width="7.0" height="47.60" fill="url(#pHor)" stroke="#000" stroke-width="1.1"/></g>
<rect x="520.45" y="1155.90" width="8.1" height="47.30" fill="#000"/>
<g transform="translate(520.45 1108.80)"><rect x="0.55" y="0" width="7.0" height="47.10" fill="url(#pChk)" stroke="#000" stroke-width="1.1"/></g>
<g transform="translate(520.45 1061.20)"><rect x="0.55" y="0" width="7.0" height="47.60" fill="url(#pHor)" stroke="#000" stroke-width="1.1"/></g>
<g transform="translate(574.45 1155.90)"><rect x="0.55" y="0" width="7.0" height="47.30" fill="url(#pPara)" stroke="#000" stroke-width="1.1"/></g>
<g transform="translate(574.45 1108.80)"><rect x="0.55" y="0" width="7.0" height="47.10" fill="url(#pDot)" stroke="#000" stroke-width="1.1"/></g>
<g transform="translate(574.45 1061.20)"><rect x="0.55" y="0" width="7.0" height="47.60" fill="url(#pHor)" stroke="#000" stroke-width="1.1"/></g>
<rect x="592.45" y="1155.90" width="8.1" height="47.30" fill="#000"/>
<g transform="translate(592.45 1108.80)"><rect x="0.55" y="0" width="7.0" height="47.10" fill="url(#pPara)" stroke="#000" stroke-width="1.1"/></g>
<rect x="610.45" y="1155.90" width="8.1" height="47.30" fill="#000"/>
<g transform="translate(610.45 1108.80)"><rect x="0.55" y="0" width="7.0" height="47.10" fill="url(#pPara)" stroke="#000" stroke-width="1.1"/></g>
<g transform="translate(628.45 1155.90)"><rect x="0.55" y="0" width="7.0" height="47.30" fill="url(#pPara)" stroke="#000" stroke-width="1.1"/></g>
<g transform="translate(628.45 1108.80)"><rect x="0.55" y="0" width="7.0" height="47.10" fill="url(#pChk)" stroke="#000" stroke-width="1.1"/></g>
<rect x="646.45" y="1155.90" width="8.1" height="47.30" fill="#000"/>
<g transform="translate(646.45 1108.80)"><rect x="0.55" y="0" width="7.0" height="47.10" fill="url(#pPara)" stroke="#000" stroke-width="1.1"/></g>
<g transform="translate(646.45 1061.20)"><rect x="0.55" y="0" width="7.0" height="47.60" fill="url(#pDot)" stroke="#000" stroke-width="1.1"/></g>
<rect x="664.45" y="1155.90" width="8.1" height="47.30" fill="#000"/>
<g transform="translate(664.45 1108.80)"><rect x="0.55" y="0" width="7.0" height="47.10" fill="url(#pPara)" stroke="#000" stroke-width="1.1"/></g>
<g transform="translate(664.45 1061.20)"><rect x="0.55" y="0" width="7.0" height="47.60" fill="url(#pDot)" stroke="#000" stroke-width="1.1"/></g>
<g transform="translate(682.45 1155.90)"><rect x="0.55" y="0" width="7.0" height="47.30" fill="url(#pPara)" stroke="#000" stroke-width="1.1"/></g>
<g transform="translate(682.45 1108.80)"><rect x="0.55" y="0" width="7.0" height="47.10" fill="url(#pDot)" stroke="#000" stroke-width="1.1"/></g>
<g transform="translate(682.45 1061.20)"><rect x="0.55" y="0" width="7.0" height="47.60" fill="url(#pHor)" stroke="#000" stroke-width="1.1"/></g>
<rect x="700.45" y="1155.90" width="8.1" height="47.30" fill="#000"/>
<g transform="translate(700.45 1108.80)"><rect x="0.55" y="0" width="7.0" height="47.10" fill="url(#pPara)" stroke="#000" stroke-width="1.1"/></g>
<rect x="718.45" y="1155.90" width="8.1" height="47.30" fill="#000"/>
<g transform="translate(718.45 1108.80)"><rect x="0.55" y="0" width="7.0" height="47.10" fill="url(#pPara)" stroke="#000" stroke-width="1.1"/></g>
<g transform="translate(718.45 1061.20)"><rect x="0.55" y="0" width="7.0" height="47.60" fill="url(#pDot)" stroke="#000" stroke-width="1.1"/></g>
<g transform="translate(736.45 1155.90)"><rect x="0.55" y="0" width="7.0" height="47.30" fill="url(#pPara)" stroke="#000" stroke-width="1.1"/></g>
<g transform="translate(736.45 1108.80)"><rect x="0.55" y="0" width="7.0" height="47.10" fill="url(#pChk)" stroke="#000" stroke-width="1.1"/></g>
<rect x="754.45" y="1155.90" width="8.1" height="47.30" fill="#000"/>
<rect x="772.45" y="1155.90" width="8.1" height="47.30" fill="#000"/>
<g transform="translate(772.45 1108.80)"><rect x="0.55" y="0" width="7.0" height="47.10" fill="url(#pPara)" stroke="#000" stroke-width="1.1"/></g>
<g transform="translate(772.45 1061.20)"><rect x="0.55" y="0" width="7.0" height="47.60" fill="url(#pDot)" stroke="#000" stroke-width="1.1"/></g>
<rect x="87.9" y="938.6" width="10.6" height="10.4" fill="#000"/>
<text x="101.19999999999999" y="949.7" font-size="20.4" text-anchor="start" fill="#606060" stroke="#606060" stroke-width="0.15" font-family="'Liberation Serif', serif" >Cardiophrenic</text>
<rect x="252.9" y="939.1" width="10" height="9.6" fill="url(#pPara)" stroke="#000" stroke-width="1.1"/>
<text x="267.6" y="949.7" font-size="20.4" text-anchor="start" fill="#606060" stroke="#606060" stroke-width="0.15" font-family="'Liberation Serif', serif" >Parasternal</text>
<rect x="392.1" y="939.1" width="10" height="9.6" fill="url(#pDot)" stroke="#000" stroke-width="1.1"/>
<text x="406.6" y="949.7" font-size="20.4" text-anchor="start" fill="#606060" stroke="#606060" stroke-width="0.15" font-family="'Liberation Serif', serif" >Mediastinal</text>
<rect x="537.7" y="939.1" width="10" height="9.6" fill="url(#pChk)" stroke="#000" stroke-width="1.1"/>
<text x="552.1" y="949.7" font-size="20.4" text-anchor="start" fill="#606060" stroke="#606060" stroke-width="0.15" font-family="'Liberation Serif', serif" >Axillary</text>
<rect x="654.4" y="939.1" width="10" height="9.6" fill="url(#pHor)" stroke="#000" stroke-width="1.1"/>
<text x="668.4" y="949.7" font-size="20.4" text-anchor="start" fill="#606060" stroke="#606060" stroke-width="0.15" font-family="'Liberation Serif', serif" >Subclavian</text>
<text x="90.9" y="1235.5" font-size="18.9" text-anchor="start" fill="#1a1a1a" stroke="#1a1a1a" stroke-width="0.35" font-family="'DejaVu Serif', serif" >First line treatment responders (n=29)</text>
<text x="576.2" y="1236.0" font-size="20.7" text-anchor="start" fill="#1a1a1a" stroke="#1a1a1a" stroke-width="0.35" font-family="'Liberation Serif', serif" >Non-responders (n=12)</text></svg>
</body></html>
